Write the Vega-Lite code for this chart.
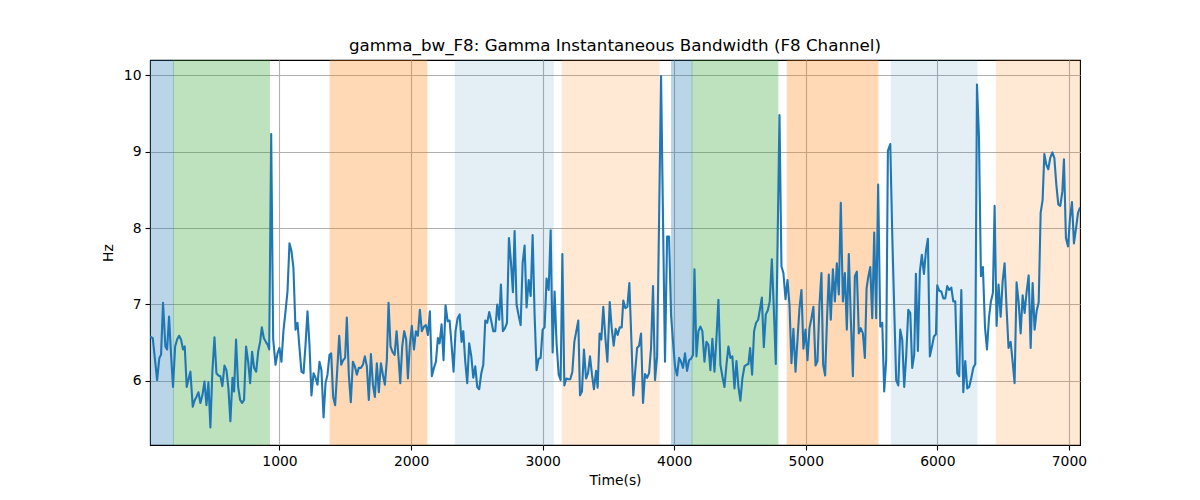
{
  "$schema": "https://vega.github.io/schema/vega-lite/v6.json",
  "width": 930,
  "height": 385,
  "autosize": {"type": "none"},
  "padding": {"left": 150, "top": 60, "right": 120, "bottom": 55},
  "background": "white",
  "title": {
    "text": "gamma_bw_F8: Gamma Instantaneous Bandwidth (F8 Channel)",
    "font": "DejaVu Sans",
    "fontSize": 16.7,
    "fontWeight": "normal",
    "color": "black",
    "offset": 5
  },
  "config": {
    "view": {"stroke": "black", "strokeWidth": 1.1},
    "axis": {
      "domain": false,
      "grid": true,
      "gridColor": "#b0b0b0",
      "gridWidth": 1.1,
      "tickColor": "black",
      "tickWidth": 1.1,
      "tickSize": 5,
      "labelPadding": 4,
      "labelFont": "DejaVu Sans",
      "labelFontSize": 13.9,
      "labelColor": "black",
      "titleFont": "DejaVu Sans",
      "titleFontSize": 13.9,
      "titleFontWeight": "normal",
      "titleColor": "black"
    }
  },
  "datasets": {
    "spans": [
      {"s": 16, "e": 194, "k": "b"},
      {"s": 194, "e": 924, "k": "g"},
      {"s": 1385, "e": 2120, "k": "o"},
      {"s": 2336, "e": 3080, "k": "lb"},
      {"s": 3149, "e": 3886, "k": "lo"},
      {"s": 3980, "e": 4135, "k": "b"},
      {"s": 4135, "e": 4788, "k": "g"},
      {"s": 4859, "e": 5548, "k": "o"},
      {"s": 5650, "e": 6301, "k": "lb"},
      {"s": 6448, "e": 7084, "k": "lo"}
    ],
    "series": [
      {"t": 16, "v": 6.58}, {"t": 37, "v": 6.56}, {"t": 70, "v": 6.01}, {"t": 87, "v": 6.30}, {"t": 100, "v": 6.34},
      {"t": 115, "v": 7.02}, {"t": 133, "v": 6.45}, {"t": 146, "v": 6.41}, {"t": 161, "v": 6.84}, {"t": 176, "v": 6.34},
      {"t": 191, "v": 5.92}, {"t": 207, "v": 6.45}, {"t": 222, "v": 6.54}, {"t": 237, "v": 6.59}, {"t": 252, "v": 6.54},
      {"t": 267, "v": 6.41}, {"t": 280, "v": 6.45}, {"t": 295, "v": 5.92}, {"t": 310, "v": 6.03}, {"t": 323, "v": 6.12},
      {"t": 341, "v": 5.66}, {"t": 354, "v": 5.74}, {"t": 369, "v": 5.79}, {"t": 384, "v": 5.85}, {"t": 399, "v": 5.71},
      {"t": 414, "v": 5.81}, {"t": 430, "v": 5.99}, {"t": 445, "v": 5.68}, {"t": 460, "v": 5.98}, {"t": 475, "v": 5.39},
      {"t": 490, "v": 6.12}, {"t": 506, "v": 6.57}, {"t": 521, "v": 6.10}, {"t": 536, "v": 6.07}, {"t": 551, "v": 6.06},
      {"t": 566, "v": 5.93}, {"t": 582, "v": 6.20}, {"t": 597, "v": 6.14}, {"t": 612, "v": 5.90}, {"t": 627, "v": 5.47},
      {"t": 643, "v": 6.04}, {"t": 655, "v": 5.86}, {"t": 670, "v": 6.54}, {"t": 686, "v": 5.92}, {"t": 701, "v": 5.75},
      {"t": 716, "v": 5.71}, {"t": 731, "v": 5.75}, {"t": 746, "v": 6.45}, {"t": 762, "v": 6.25}, {"t": 777, "v": 5.97},
      {"t": 792, "v": 6.38}, {"t": 807, "v": 6.17}, {"t": 823, "v": 6.12}, {"t": 838, "v": 6.38}, {"t": 853, "v": 6.51},
      {"t": 866, "v": 6.70}, {"t": 881, "v": 6.56}, {"t": 896, "v": 6.51}, {"t": 911, "v": 6.47}, {"t": 922, "v": 6.41},
      {"t": 937, "v": 9.23}, {"t": 952, "v": 6.55}, {"t": 970, "v": 6.21}, {"t": 985, "v": 6.36}, {"t": 1000, "v": 6.43},
      {"t": 1015, "v": 6.25}, {"t": 1030, "v": 6.65}, {"t": 1046, "v": 6.91}, {"t": 1061, "v": 7.17}, {"t": 1076, "v": 7.80},
      {"t": 1091, "v": 7.70}, {"t": 1106, "v": 7.48}, {"t": 1122, "v": 6.67}, {"t": 1137, "v": 6.76}, {"t": 1152, "v": 6.43},
      {"t": 1167, "v": 6.12}, {"t": 1183, "v": 6.10}, {"t": 1198, "v": 6.47}, {"t": 1213, "v": 6.91}, {"t": 1228, "v": 6.47},
      {"t": 1243, "v": 5.81}, {"t": 1259, "v": 6.10}, {"t": 1274, "v": 6.04}, {"t": 1289, "v": 5.95}, {"t": 1304, "v": 6.25},
      {"t": 1319, "v": 6.14}, {"t": 1335, "v": 5.52}, {"t": 1350, "v": 5.97}, {"t": 1365, "v": 6.08}, {"t": 1380, "v": 6.34},
      {"t": 1393, "v": 6.36}, {"t": 1408, "v": 5.79}, {"t": 1423, "v": 5.68}, {"t": 1439, "v": 6.14}, {"t": 1454, "v": 6.59},
      {"t": 1469, "v": 6.21}, {"t": 1484, "v": 6.27}, {"t": 1499, "v": 6.30}, {"t": 1512, "v": 6.83}, {"t": 1527, "v": 6.08},
      {"t": 1542, "v": 5.72}, {"t": 1558, "v": 6.25}, {"t": 1573, "v": 6.19}, {"t": 1588, "v": 6.08}, {"t": 1603, "v": 6.17},
      {"t": 1619, "v": 6.17}, {"t": 1634, "v": 6.21}, {"t": 1649, "v": 6.32}, {"t": 1664, "v": 6.19}, {"t": 1679, "v": 5.75},
      {"t": 1695, "v": 6.35}, {"t": 1710, "v": 5.95}, {"t": 1725, "v": 5.79}, {"t": 1740, "v": 6.23}, {"t": 1755, "v": 5.85},
      {"t": 1771, "v": 6.23}, {"t": 1786, "v": 6.08}, {"t": 1801, "v": 5.95}, {"t": 1816, "v": 6.27}, {"t": 1829, "v": 7.02},
      {"t": 1844, "v": 6.45}, {"t": 1859, "v": 6.38}, {"t": 1875, "v": 6.34}, {"t": 1890, "v": 6.65}, {"t": 1905, "v": 6.30},
      {"t": 1918, "v": 5.97}, {"t": 1933, "v": 6.45}, {"t": 1948, "v": 6.65}, {"t": 1963, "v": 6.54}, {"t": 1976, "v": 6.03},
      {"t": 1991, "v": 6.47}, {"t": 2006, "v": 6.72}, {"t": 2022, "v": 6.41}, {"t": 2037, "v": 6.65}, {"t": 2052, "v": 6.59},
      {"t": 2067, "v": 6.93}, {"t": 2082, "v": 6.65}, {"t": 2098, "v": 6.71}, {"t": 2113, "v": 6.73}, {"t": 2128, "v": 6.60},
      {"t": 2143, "v": 6.91}, {"t": 2158, "v": 6.06}, {"t": 2174, "v": 6.17}, {"t": 2189, "v": 6.25}, {"t": 2204, "v": 6.56},
      {"t": 2217, "v": 6.49}, {"t": 2232, "v": 6.74}, {"t": 2247, "v": 6.27}, {"t": 2262, "v": 6.99}, {"t": 2278, "v": 6.78},
      {"t": 2293, "v": 6.79}, {"t": 2308, "v": 6.47}, {"t": 2323, "v": 6.12}, {"t": 2338, "v": 6.65}, {"t": 2354, "v": 6.82},
      {"t": 2369, "v": 6.87}, {"t": 2384, "v": 6.51}, {"t": 2397, "v": 6.65}, {"t": 2412, "v": 6.25}, {"t": 2427, "v": 5.97},
      {"t": 2442, "v": 6.49}, {"t": 2458, "v": 6.32}, {"t": 2473, "v": 6.04}, {"t": 2488, "v": 6.19}, {"t": 2503, "v": 5.92},
      {"t": 2518, "v": 5.89}, {"t": 2534, "v": 6.10}, {"t": 2549, "v": 6.21}, {"t": 2564, "v": 6.79}, {"t": 2579, "v": 6.76},
      {"t": 2594, "v": 6.90}, {"t": 2610, "v": 6.78}, {"t": 2625, "v": 6.65}, {"t": 2640, "v": 6.65}, {"t": 2655, "v": 7.00},
      {"t": 2670, "v": 6.80}, {"t": 2683, "v": 7.26}, {"t": 2698, "v": 6.65}, {"t": 2714, "v": 6.69}, {"t": 2729, "v": 6.76},
      {"t": 2744, "v": 7.87}, {"t": 2759, "v": 7.56}, {"t": 2774, "v": 7.16}, {"t": 2787, "v": 7.96}, {"t": 2802, "v": 7.00},
      {"t": 2817, "v": 6.86}, {"t": 2833, "v": 6.73}, {"t": 2848, "v": 7.54}, {"t": 2863, "v": 7.77}, {"t": 2878, "v": 6.96},
      {"t": 2894, "v": 7.32}, {"t": 2909, "v": 7.11}, {"t": 2924, "v": 7.91}, {"t": 2939, "v": 6.86}, {"t": 2954, "v": 6.14},
      {"t": 2970, "v": 6.29}, {"t": 2985, "v": 6.30}, {"t": 3000, "v": 6.67}, {"t": 3015, "v": 6.70}, {"t": 3030, "v": 7.34},
      {"t": 3046, "v": 7.19}, {"t": 3061, "v": 7.97}, {"t": 3076, "v": 6.37}, {"t": 3091, "v": 7.17}, {"t": 3106, "v": 6.49},
      {"t": 3122, "v": 6.08}, {"t": 3137, "v": 6.01}, {"t": 3150, "v": 7.66}, {"t": 3165, "v": 5.94}, {"t": 3180, "v": 6.03},
      {"t": 3195, "v": 6.02}, {"t": 3210, "v": 6.02}, {"t": 3226, "v": 6.12}, {"t": 3241, "v": 6.51}, {"t": 3256, "v": 6.65},
      {"t": 3271, "v": 6.79}, {"t": 3284, "v": 5.81}, {"t": 3299, "v": 5.86}, {"t": 3314, "v": 6.41}, {"t": 3330, "v": 6.03},
      {"t": 3345, "v": 6.10}, {"t": 3360, "v": 6.32}, {"t": 3375, "v": 6.08}, {"t": 3390, "v": 5.89}, {"t": 3406, "v": 6.13},
      {"t": 3418, "v": 5.91}, {"t": 3433, "v": 6.62}, {"t": 3446, "v": 6.54}, {"t": 3461, "v": 6.97}, {"t": 3477, "v": 6.56},
      {"t": 3492, "v": 6.25}, {"t": 3510, "v": 7.03}, {"t": 3525, "v": 6.69}, {"t": 3540, "v": 6.46}, {"t": 3555, "v": 6.68},
      {"t": 3570, "v": 6.60}, {"t": 3586, "v": 6.70}, {"t": 3601, "v": 6.70}, {"t": 3613, "v": 7.05}, {"t": 3629, "v": 6.95},
      {"t": 3644, "v": 6.97}, {"t": 3659, "v": 7.28}, {"t": 3674, "v": 6.56}, {"t": 3689, "v": 5.81}, {"t": 3702, "v": 6.09},
      {"t": 3718, "v": 6.43}, {"t": 3733, "v": 6.46}, {"t": 3748, "v": 6.62}, {"t": 3763, "v": 5.71}, {"t": 3778, "v": 6.09},
      {"t": 3794, "v": 6.04}, {"t": 3809, "v": 6.10}, {"t": 3824, "v": 6.43}, {"t": 3839, "v": 7.24}, {"t": 3854, "v": 6.01},
      {"t": 3870, "v": 6.32}, {"t": 3885, "v": 8.10}, {"t": 3900, "v": 9.99}, {"t": 3915, "v": 8.10}, {"t": 3930, "v": 6.25},
      {"t": 3946, "v": 7.89}, {"t": 3961, "v": 7.89}, {"t": 3976, "v": 6.86}, {"t": 3991, "v": 6.51}, {"t": 4006, "v": 6.19},
      {"t": 4022, "v": 6.07}, {"t": 4037, "v": 6.30}, {"t": 4052, "v": 6.25}, {"t": 4067, "v": 6.17}, {"t": 4082, "v": 6.36},
      {"t": 4098, "v": 6.13}, {"t": 4113, "v": 6.27}, {"t": 4128, "v": 6.29}, {"t": 4143, "v": 6.34}, {"t": 4154, "v": 7.46},
      {"t": 4169, "v": 6.32}, {"t": 4184, "v": 6.65}, {"t": 4199, "v": 6.71}, {"t": 4214, "v": 6.65}, {"t": 4230, "v": 6.25},
      {"t": 4245, "v": 6.51}, {"t": 4260, "v": 6.47}, {"t": 4275, "v": 6.14}, {"t": 4290, "v": 6.55}, {"t": 4306, "v": 6.12},
      {"t": 4321, "v": 6.56}, {"t": 4336, "v": 7.06}, {"t": 4351, "v": 6.21}, {"t": 4366, "v": 6.06}, {"t": 4382, "v": 5.92},
      {"t": 4397, "v": 6.21}, {"t": 4412, "v": 6.45}, {"t": 4427, "v": 6.30}, {"t": 4442, "v": 6.32}, {"t": 4458, "v": 5.90},
      {"t": 4473, "v": 6.26}, {"t": 4488, "v": 5.92}, {"t": 4503, "v": 5.74}, {"t": 4518, "v": 6.03}, {"t": 4534, "v": 6.19},
      {"t": 4549, "v": 6.21}, {"t": 4564, "v": 6.22}, {"t": 4577, "v": 6.43}, {"t": 4592, "v": 6.08}, {"t": 4607, "v": 6.65},
      {"t": 4622, "v": 6.76}, {"t": 4638, "v": 6.80}, {"t": 4653, "v": 6.95}, {"t": 4666, "v": 7.09}, {"t": 4681, "v": 6.44},
      {"t": 4696, "v": 6.87}, {"t": 4711, "v": 6.92}, {"t": 4726, "v": 7.04}, {"t": 4742, "v": 7.59}, {"t": 4757, "v": 6.95},
      {"t": 4772, "v": 6.22}, {"t": 4800, "v": 9.48}, {"t": 4815, "v": 7.50}, {"t": 4830, "v": 7.41}, {"t": 4846, "v": 7.07},
      {"t": 4861, "v": 7.32}, {"t": 4876, "v": 7.00}, {"t": 4891, "v": 6.23}, {"t": 4906, "v": 6.68}, {"t": 4922, "v": 6.12},
      {"t": 4937, "v": 6.54}, {"t": 4952, "v": 6.95}, {"t": 4967, "v": 7.19}, {"t": 4982, "v": 6.42}, {"t": 4998, "v": 6.67},
      {"t": 5013, "v": 6.27}, {"t": 5028, "v": 6.69}, {"t": 5043, "v": 6.82}, {"t": 5058, "v": 6.97}, {"t": 5074, "v": 6.20},
      {"t": 5089, "v": 6.26}, {"t": 5104, "v": 7.00}, {"t": 5119, "v": 7.41}, {"t": 5132, "v": 6.21}, {"t": 5147, "v": 6.07},
      {"t": 5162, "v": 6.84}, {"t": 5175, "v": 7.39}, {"t": 5190, "v": 6.80}, {"t": 5206, "v": 7.46}, {"t": 5221, "v": 7.04},
      {"t": 5236, "v": 7.54}, {"t": 5251, "v": 7.13}, {"t": 5266, "v": 8.33}, {"t": 5282, "v": 7.04}, {"t": 5297, "v": 7.41},
      {"t": 5312, "v": 6.67}, {"t": 5327, "v": 7.66}, {"t": 5342, "v": 6.82}, {"t": 5358, "v": 6.06}, {"t": 5373, "v": 7.37},
      {"t": 5388, "v": 7.43}, {"t": 5403, "v": 6.62}, {"t": 5418, "v": 6.69}, {"t": 5434, "v": 6.62}, {"t": 5449, "v": 6.30},
      {"t": 5462, "v": 7.21}, {"t": 5474, "v": 7.35}, {"t": 5490, "v": 7.49}, {"t": 5505, "v": 6.82}, {"t": 5520, "v": 7.94},
      {"t": 5535, "v": 6.82}, {"t": 5550, "v": 8.57}, {"t": 5566, "v": 6.71}, {"t": 5581, "v": 6.76}, {"t": 5596, "v": 5.86},
      {"t": 5611, "v": 6.27}, {"t": 5624, "v": 9.01}, {"t": 5642, "v": 9.10}, {"t": 5657, "v": 7.92}, {"t": 5672, "v": 6.95},
      {"t": 5687, "v": 6.01}, {"t": 5703, "v": 5.94}, {"t": 5718, "v": 6.67}, {"t": 5733, "v": 6.54}, {"t": 5748, "v": 5.92},
      {"t": 5763, "v": 6.32}, {"t": 5779, "v": 6.93}, {"t": 5794, "v": 6.89}, {"t": 5809, "v": 6.17}, {"t": 5824, "v": 6.34},
      {"t": 5837, "v": 7.40}, {"t": 5852, "v": 6.39}, {"t": 5867, "v": 7.43}, {"t": 5882, "v": 7.65}, {"t": 5898, "v": 7.40},
      {"t": 5913, "v": 7.70}, {"t": 5928, "v": 7.86}, {"t": 5943, "v": 6.32}, {"t": 5959, "v": 6.45}, {"t": 5974, "v": 6.58},
      {"t": 5989, "v": 6.61}, {"t": 5999, "v": 7.25}, {"t": 6014, "v": 7.18}, {"t": 6030, "v": 7.17}, {"t": 6045, "v": 7.08},
      {"t": 6060, "v": 7.08}, {"t": 6075, "v": 7.24}, {"t": 6090, "v": 7.19}, {"t": 6106, "v": 7.22}, {"t": 6121, "v": 7.04},
      {"t": 6136, "v": 7.04}, {"t": 6151, "v": 6.10}, {"t": 6166, "v": 6.06}, {"t": 6182, "v": 7.19}, {"t": 6197, "v": 5.85},
      {"t": 6212, "v": 6.26}, {"t": 6227, "v": 5.90}, {"t": 6242, "v": 5.92}, {"t": 6258, "v": 6.04}, {"t": 6273, "v": 6.17},
      {"t": 6288, "v": 6.22}, {"t": 6301, "v": 9.88}, {"t": 6316, "v": 9.20}, {"t": 6331, "v": 7.37}, {"t": 6346, "v": 7.49},
      {"t": 6362, "v": 6.70}, {"t": 6377, "v": 6.41}, {"t": 6392, "v": 6.82}, {"t": 6407, "v": 7.04}, {"t": 6422, "v": 7.15},
      {"t": 6435, "v": 8.29}, {"t": 6450, "v": 6.72}, {"t": 6465, "v": 7.26}, {"t": 6481, "v": 6.84}, {"t": 6496, "v": 7.30},
      {"t": 6511, "v": 7.54}, {"t": 6526, "v": 6.95}, {"t": 6541, "v": 6.43}, {"t": 6557, "v": 6.51}, {"t": 6572, "v": 6.25},
      {"t": 6587, "v": 5.97}, {"t": 6602, "v": 7.29}, {"t": 6618, "v": 7.02}, {"t": 6633, "v": 6.62}, {"t": 6648, "v": 7.12},
      {"t": 6663, "v": 6.89}, {"t": 6678, "v": 7.16}, {"t": 6694, "v": 7.38}, {"t": 6709, "v": 6.43}, {"t": 6724, "v": 7.28},
      {"t": 6739, "v": 6.67}, {"t": 6754, "v": 6.91}, {"t": 6770, "v": 7.03}, {"t": 6785, "v": 8.20}, {"t": 6800, "v": 8.37},
      {"t": 6813, "v": 8.97}, {"t": 6828, "v": 8.83}, {"t": 6843, "v": 8.77}, {"t": 6858, "v": 8.92}, {"t": 6874, "v": 8.99},
      {"t": 6889, "v": 8.92}, {"t": 6904, "v": 8.57}, {"t": 6919, "v": 8.31}, {"t": 6934, "v": 8.29}, {"t": 6950, "v": 8.48},
      {"t": 6962, "v": 8.90}, {"t": 6977, "v": 7.87}, {"t": 6993, "v": 7.76}, {"t": 7008, "v": 8.13}, {"t": 7023, "v": 8.34},
      {"t": 7038, "v": 7.80}, {"t": 7054, "v": 8.00}, {"t": 7069, "v": 8.20}, {"t": 7084, "v": 8.27}
    ]
  },
  "layer": [
    {
      "data": {"name": "spans"},
      "mark": {"type": "rect", "strokeWidth": 1, "clip": true},
      "encoding": {
        "x": {
          "field": "s",
          "type": "quantitative",
          "scale": {"domain": [16, 7084], "nice": false, "zero": false},
          "axis": {
            "title": "Time(s)",
            "values": [1000, 2000, 3000, 4000, 5000, 6000, 7000],
            "format": "d",
            "titlePadding": 6
          }
        },
        "x2": {"field": "e"},
        "color": {
          "field": "k",
          "type": "nominal",
          "scale": {
            "domain": ["b", "g", "o", "lb", "lo"],
            "range": ["#1f77b4", "#2ca02c", "#ff7f0e", "#1f77b4", "#ff7f0e"]
          },
          "legend": null
        },
        "stroke": {
          "field": "k",
          "type": "nominal",
          "scale": {
            "domain": ["b", "g", "o", "lb", "lo"],
            "range": ["#1f77b4", "#2ca02c", "#ff7f0e", "#1f77b4", "#ff7f0e"]
          },
          "legend": null
        },
        "opacity": {
          "condition": [
            {"test": "datum.k === 'lb'", "value": 0.12},
            {"test": "datum.k === 'lo'", "value": 0.17}
          ],
          "value": 0.3
        }
      }
    },
    {
      "data": {"name": "series"},
      "mark": {"type": "line", "color": "#1f77b4", "strokeWidth": 2.1, "strokeJoin": "round", "clip": true},
      "encoding": {
        "x": {"field": "t", "type": "quantitative"},
        "y": {
          "field": "v",
          "type": "quantitative",
          "scale": {"domain": [5.16, 10.2], "nice": false, "zero": false},
          "axis": {
            "title": "Hz",
            "values": [6, 7, 8, 9, 10],
            "format": "d",
            "titlePadding": 8
          }
        }
      }
    }
  ]
}
